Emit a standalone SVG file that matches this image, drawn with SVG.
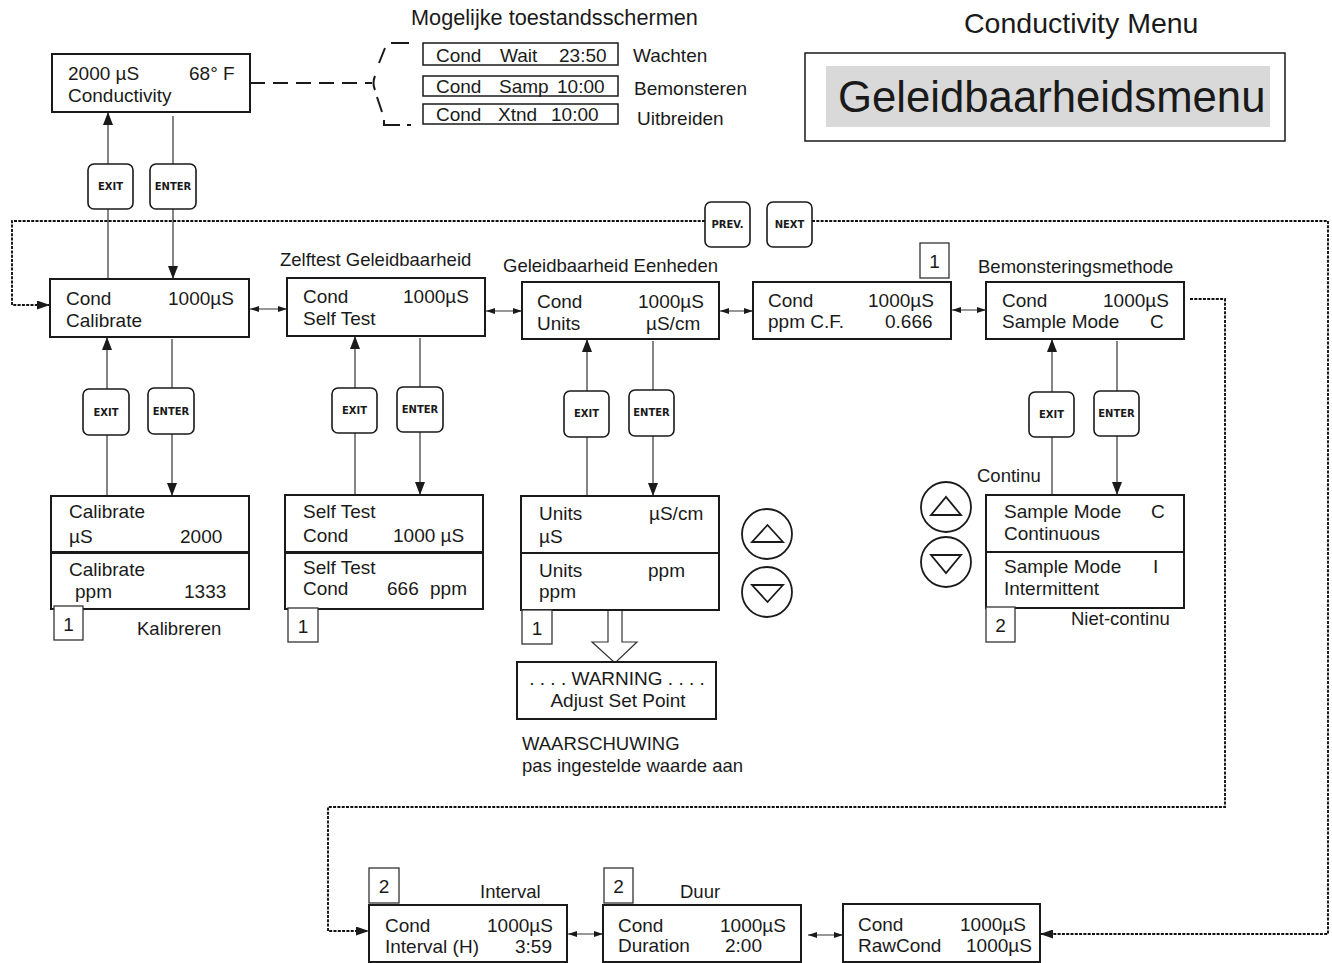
<svg xmlns="http://www.w3.org/2000/svg" width="1332" height="963" viewBox="0 0 1332 963">
<defs>
<style>
.t{font-family:"Liberation Sans",Arial,sans-serif;font-size:19px;fill:#1a1a1a}
.lbl{font-family:"Liberation Sans",Arial,sans-serif;font-size:18.5px;fill:#1a1a1a}
.box{fill:#fff;stroke:#1a1a1a;stroke-width:2}
.nb{fill:#fff;stroke:#333;stroke-width:1.3}
.btn{fill:#fff;stroke:#1a1a1a;stroke-width:1.6}
.bt{font-family:"DejaVu Sans",Verdana,sans-serif;font-weight:bold;font-size:10px;fill:#1a1a1a;text-anchor:middle}
.ln{stroke:#333;stroke-width:1.2;fill:none}
.dl{stroke:#111;stroke-width:1.9;fill:none;stroke-dasharray:3 1.3}
.dd{stroke:#1a1a1a;stroke-width:2;fill:none}
.circ{fill:#fff;stroke:#1a1a1a;stroke-width:1.8}
</style>
<marker id="ah" viewBox="0 0 13 10" refX="13" refY="5" markerWidth="13" markerHeight="10" markerUnits="userSpaceOnUse" orient="auto"><path d="M0,0 L13,5 L0,10 z" fill="#1a1a1a"/></marker>
<marker id="sa" viewBox="0 0 9 6" refX="9" refY="3" markerWidth="9" markerHeight="6" markerUnits="userSpaceOnUse" orient="auto-start-reverse"><path d="M0,0 L9,3 L0,6 z" fill="#1a1a1a"/></marker>
<marker id="da" viewBox="0 0 13 9" refX="13" refY="4.5" markerWidth="13" markerHeight="9" markerUnits="userSpaceOnUse" orient="auto"><path d="M0,0 L13,4.5 L0,9 z" fill="#1a1a1a"/></marker>
</defs>
<rect width="1332" height="963" fill="#fff"/>

<!-- connectors -->
<g id="connectors">
<line class="ln" x1="108" y1="279" x2="108" y2="112" marker-end="url(#ah)"/>
<line class="ln" x1="173" y1="116" x2="173" y2="279" marker-end="url(#ah)"/>
<line class="ln" x1="107" y1="496" x2="107" y2="337" marker-end="url(#ah)"/>
<line class="ln" x1="172" y1="339" x2="172" y2="496" marker-end="url(#ah)"/>
<line class="ln" x1="355" y1="495" x2="355" y2="336" marker-end="url(#ah)"/>
<line class="ln" x1="420" y1="338" x2="420" y2="495" marker-end="url(#ah)"/>
<line class="ln" x1="587" y1="496" x2="587" y2="339" marker-end="url(#ah)"/>
<line class="ln" x1="653" y1="341" x2="653" y2="496" marker-end="url(#ah)"/>
<line class="ln" x1="1052" y1="495" x2="1052" y2="339" marker-end="url(#ah)"/>
<line class="ln" x1="1117" y1="341" x2="1117" y2="495" marker-end="url(#ah)"/>
<line class="ln" x1="250" y1="309" x2="287" y2="309" marker-start="url(#sa)" marker-end="url(#sa)"/>
<line class="ln" x1="486" y1="311" x2="522" y2="311" marker-start="url(#sa)" marker-end="url(#sa)"/>
<line class="ln" x1="720" y1="311" x2="753" y2="311" marker-start="url(#sa)" marker-end="url(#sa)"/>
<line class="ln" x1="952" y1="310" x2="986" y2="310" marker-start="url(#sa)" marker-end="url(#sa)"/>
<line class="ln" x1="568" y1="934" x2="603" y2="934" marker-start="url(#sa)" marker-end="url(#sa)"/>
<line class="ln" x1="808" y1="935" x2="843" y2="935" marker-start="url(#sa)" marker-end="url(#sa)"/>
<path class="dl" d="M705 221 H12 V305 H50" marker-end="url(#da)"/>
<path class="dl" d="M812 221 H1328 V934 H1040" marker-end="url(#da)"/>
<path class="dl" d="M1190 299 H1225 V807 H328 V931 H369" marker-end="url(#da)"/>
<path class="dd" d="M250 83 H372" stroke-dasharray="15 8"/>
<path class="dd" d="M391 43 H409 M385 48 L379 63 M375 76 Q372 83 375 90 M377 97 L382 112 M384 120 V125 H400 M407 125 H411"/>
<polyline points="608,610 608,642 592,642 615,663 637,642 622,642 622,610" fill="#fff" stroke="#333" stroke-width="1.2"/>
</g>

<!-- titles and labels -->
<text class="t" x="411" y="25" style="font-size:21.7px">Mogelijke toestandsschermen</text>
<text class="t" x="964" y="33" style="font-size:28.5px">Conductivity Menu</text>
<g id="menubox">
<rect x="805" y="53" width="480" height="88" fill="#fff" stroke="#1a1a1a" stroke-width="1.5"/>
<rect x="826" y="66" width="444" height="61" fill="#d9d9d9"/>
<text class="t" x="838" y="112" style="font-size:43.7px">Geleidbaarheidsmenu</text>
</g>
<text class="lbl" x="280" y="266">Zelftest Geleidbaarheid</text>
<text class="lbl" x="503" y="272">Geleidbaarheid Eenheden</text>
<text class="lbl" x="978" y="273">Bemonsteringsmethode</text>
<text class="lbl" x="137" y="635">Kalibreren</text>
<text class="lbl" x="977" y="482">Continu</text>
<text class="lbl" x="1071" y="625">Niet-continu</text>
<text class="lbl" x="522" y="750">WAARSCHUWING</text>
<text class="lbl" x="522" y="772">pas ingestelde waarde aan</text>
<text class="lbl" x="480" y="898">Interval</text>
<text class="lbl" x="680" y="898">Duur</text>

<!-- top main display -->
<g id="main">
<rect class="box" x="52" y="54" width="198" height="58"/>
<text class="t" x="68" y="80">2000 µS</text>
<text class="t" x="189" y="80">68° F</text>
<text class="t" x="68" y="102">Conductivity</text>
</g>

<g id="states">
<rect x="423" y="43" width="195" height="22" fill="#fff" stroke="#1a1a1a" stroke-width="1.5"/>
<text class="t" x="436" y="62">Cond</text><text class="t" x="500" y="62">Wait</text><text class="t" x="559" y="62">23:50</text>
<rect x="423" y="76" width="195" height="20" fill="#fff" stroke="#1a1a1a" stroke-width="1.5"/>
<text class="t" x="436" y="93">Cond</text><text class="t" x="499" y="93">Samp</text><text class="t" x="557" y="93">10:00</text>
<rect x="423" y="104" width="195" height="20" fill="#fff" stroke="#1a1a1a" stroke-width="1.5"/>
<text class="t" x="436" y="121">Cond</text><text class="t" x="498" y="121">Xtnd</text><text class="t" x="551" y="121">10:00</text>
<text class="t" x="633" y="62">Wachten</text>
<text class="t" x="634" y="95">Bemonsteren</text>
<text class="t" x="637" y="125">Uitbreiden</text>
</g>

<!-- buttons -->
<g id="buttons">
<rect class="btn" x="88" y="164" width="45" height="45" rx="6"/><text class="bt" x="110.5" y="190">EXIT</text>
<rect class="btn" x="150" y="164" width="46" height="45" rx="6"/><text class="bt" x="173" y="190">ENTER</text>
<rect class="btn" x="705" y="202" width="45" height="45" rx="6"/><text class="bt" x="727.5" y="228">PREV.</text>
<rect class="btn" x="767" y="202" width="45" height="45" rx="6"/><text class="bt" x="789.5" y="228">NEXT</text>
<rect class="btn" x="83" y="389" width="46" height="46" rx="6"/><text class="bt" x="106" y="416">EXIT</text>
<rect class="btn" x="148" y="388" width="46" height="46" rx="6"/><text class="bt" x="171" y="415">ENTER</text>
<rect class="btn" x="332" y="388" width="45" height="45" rx="6"/><text class="bt" x="354.5" y="414">EXIT</text>
<rect class="btn" x="397" y="387" width="46" height="45" rx="6"/><text class="bt" x="420" y="413">ENTER</text>
<rect class="btn" x="564" y="391" width="45" height="46" rx="6"/><text class="bt" x="586.5" y="417">EXIT</text>
<rect class="btn" x="629" y="390" width="45" height="46" rx="6"/><text class="bt" x="651.5" y="416">ENTER</text>
<rect class="btn" x="1029" y="392" width="45" height="45" rx="6"/><text class="bt" x="1051.5" y="418">EXIT</text>
<rect class="btn" x="1094" y="391" width="45" height="45" rx="6"/><text class="bt" x="1116.5" y="417">ENTER</text>
</g>

<!-- menu row -->
<g id="calibrate">
<rect class="box" x="50" y="279" width="199" height="58"/>
<text class="t" x="66" y="305">Cond</text><text class="t" x="168" y="305">1000µS</text>
<text class="t" x="66" y="327">Calibrate</text>
</g>
<g id="selftest">
<rect class="box" x="287" y="278" width="198" height="58"/>
<text class="t" x="303" y="303">Cond</text><text class="t" x="403" y="303">1000µS</text>
<text class="t" x="303" y="325">Self Test</text>
</g>
<g id="units">
<rect class="box" x="522" y="282" width="197" height="57"/>
<text class="t" x="537" y="308">Cond</text><text class="t" x="638" y="308">1000µS</text>
<text class="t" x="537" y="330">Units</text><text class="t" x="646" y="330">µS/cm</text>
</g>
<g id="ppmcf">
<rect class="box" x="753" y="282" width="198" height="57"/>
<text class="t" x="768" y="307">Cond</text><text class="t" x="868" y="307">1000µS</text>
<text class="t" x="768" y="328">ppm C.F.</text><text class="t" x="885" y="328">0.666</text>
</g>
<g id="samplemode">
<rect class="box" x="986" y="282" width="198" height="57"/>
<text class="t" x="1002" y="307">Cond</text><text class="t" x="1103" y="307">1000µS</text>
<text class="t" x="1002" y="328">Sample Mode</text><text class="t" x="1150" y="328">C</text>
</g>

<!-- sub screens -->
<g id="cal-sub">
<rect class="box" x="51" y="496" width="198" height="56"/>
<text class="t" x="69" y="518">Calibrate</text>
<text class="t" x="69" y="543">µS</text><text class="t" x="180" y="543">2000</text>
<rect class="box" x="51" y="553" width="198" height="56"/>
<text class="t" x="69" y="576">Calibrate</text>
<text class="t" x="75" y="598">ppm</text><text class="t" x="184" y="598">1333</text>
</g>
<g id="st-sub">
<rect class="box" x="285" y="495" width="198" height="57"/>
<text class="t" x="303" y="518">Self Test</text>
<text class="t" x="303" y="542">Cond</text><text class="t" x="393" y="542">1000 µS</text>
<rect class="box" x="285" y="553" width="198" height="56"/>
<text class="t" x="303" y="574">Self Test</text>
<text class="t" x="303" y="595">Cond</text><text class="t" x="387" y="595">666</text><text class="t" x="430" y="595">ppm</text>
</g>
<g id="units-sub">
<rect class="box" x="521" y="496" width="198" height="57"/>
<text class="t" x="539" y="520">Units</text><text class="t" x="649" y="520">µS/cm</text>
<text class="t" x="539" y="543">µS</text>
<rect class="box" x="521" y="553" width="198" height="57"/>
<text class="t" x="539" y="577">Units</text><text class="t" x="648" y="577">ppm</text>
<text class="t" x="539" y="598">ppm</text>
</g>
<g id="sm-sub">
<rect class="box" x="986" y="495" width="198" height="57"/>
<text class="t" x="1004" y="518">Sample Mode</text><text class="t" x="1151" y="518">C</text>
<text class="t" x="1004" y="540">Continuous</text>
<rect class="box" x="986" y="552" width="198" height="56"/>
<text class="t" x="1004" y="573">Sample Mode</text><text class="t" x="1153" y="573">I</text>
<text class="t" x="1004" y="595">Intermittent</text>
</g>
<g id="warning">
<rect class="box" x="517" y="662" width="199" height="57"/>
<text class="t" x="617" y="685" text-anchor="middle">. . . . WARNING . . . .</text>
<text class="t" x="618" y="707" text-anchor="middle">Adjust Set Point</text>
</g>

<!-- up/down keys -->
<g id="keys-units">
<circle class="circ" cx="767" cy="534" r="25"/><polygon points="752,542 783,542 767.5,525" fill="none" stroke="#1a1a1a" stroke-width="1.8"/>
<circle class="circ" cx="767" cy="592" r="25"/><polygon points="752,585 783,585 767.5,602" fill="none" stroke="#1a1a1a" stroke-width="1.8"/>
</g>
<g id="keys-sm">
<circle class="circ" cx="946" cy="507" r="25"/><polygon points="931,515 961,515 946,497" fill="none" stroke="#1a1a1a" stroke-width="1.8"/>
<circle class="circ" cx="946" cy="562" r="25"/><polygon points="931,555 961,555 946,573" fill="none" stroke="#1a1a1a" stroke-width="1.8"/>
</g>

<!-- numbered notes -->
<g id="notes">
<rect class="nb" x="54" y="606" width="29" height="34"/><text class="t" x="68.5" y="631" text-anchor="middle">1</text>
<rect class="nb" x="288" y="608" width="30" height="34"/><text class="t" x="303" y="633" text-anchor="middle">1</text>
<rect class="nb" x="522" y="610" width="30" height="34"/><text class="t" x="537" y="635" text-anchor="middle">1</text>
<rect class="nb" x="920" y="243" width="29" height="35"/><text class="t" x="934.5" y="268" text-anchor="middle">1</text>
<rect class="nb" x="986" y="607" width="29" height="35"/><text class="t" x="1000.5" y="632" text-anchor="middle">2</text>
<rect class="nb" x="369" y="868" width="30" height="35"/><text class="t" x="384" y="893" text-anchor="middle">2</text>
<rect class="nb" x="604" y="868" width="29" height="35"/><text class="t" x="618.5" y="893" text-anchor="middle">2</text>
</g>

<!-- bottom row -->
<g id="interval">
<rect class="box" x="369" y="905" width="198" height="57"/>
<text class="t" x="385" y="932">Cond</text><text class="t" x="487" y="932">1000µS</text>
<text class="t" x="385" y="953">Interval (H)</text><text class="t" x="515" y="953">3:59</text>
</g>
<g id="duration">
<rect class="box" x="603" y="905" width="198" height="57"/>
<text class="t" x="618" y="932">Cond</text><text class="t" x="720" y="932">1000µS</text>
<text class="t" x="618" y="952">Duration</text><text class="t" x="725" y="952">2:00</text>
</g>
<g id="rawcond">
<rect class="box" x="843" y="904" width="197" height="58"/>
<text class="t" x="858" y="931">Cond</text><text class="t" x="960" y="931">1000µS</text>
<text class="t" x="858" y="952">RawCond</text><text class="t" x="966" y="952">1000µS</text>
</g>
</svg>
